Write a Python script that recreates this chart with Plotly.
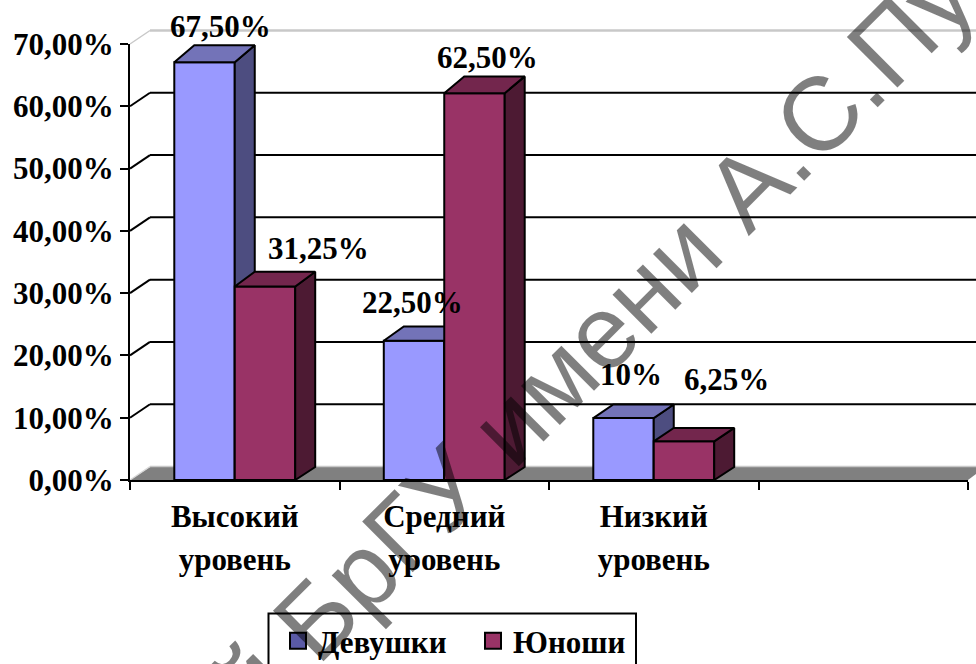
import plotly.graph_objects as go

# ---- data ----
categories = ["Высокий уровень", "Средний уровень", "Низкий уровень"]
girls = [67.5, 22.5, 10.0]
boys = [31.25, 62.5, 6.25]
girls_labels = ["67,50%", "22,50%", "10%"]
boys_labels = ["31,25%", "62,50%", "6,25%"]
series_names = ["Девушки", "Юноши"]
y_ticks = [0, 10, 20, 30, 40, 50, 60, 70]
y_tick_labels = ["0,00%", "10,00%", "20,00%", "30,00%", "40,00%", "50,00%", "60,00%", "70,00%"]
watermark = "Репозиторий БрГУ имени А.С.Пушкина"

# ---- label offsets in pixels (right, up) from the bar's front-top centre ----
girls_offsets = [(16, 36), (-2, 38), (7, 44)]
boys_offsets = [(54, 38), (13, 36), (43, 62)]

# ---- geometry ----
W, H = 976, 664
LEFT, FLOOR_Y, TOP_Y, RIGHT = 130, 480, 44, 968
PX_PER_CAT = (RIGHT - LEFT) / 4
BAR_W = 0.2886
DX = 20 / PX_PER_CAT
PX_PER_UNIT = (FLOOR_Y - TOP_Y) / 70
BAR_RANGE = 70.44
BAR_UNIT = (FLOOR_Y - TOP_Y) / BAR_RANGE
FONT = "Liberation Serif"
BLACK = "#000000"


def back(v):
    return v * 1.0097 + 13 / BAR_UNIT


def px(x):
    return (x - LEFT) / (W - LEFT)


def py(y):
    return (FLOOR_Y - y) / FLOOR_Y


fig = go.Figure()

# ---- legend entries (base subplot) ----
for name, col in zip(series_names, ["#5a5aa6", "#993366"]):
    fig.add_trace(go.Scatter(x=[None], y=[None], mode="markers", name=name,
                             marker=dict(symbol="square", size=16, color=col,
                                         line=dict(color=BLACK, width=2))))


def add_series(values, name, xaxis, yaxis, offset, front, top, side):
    xs = list(range(len(values)))
    fig.add_trace(go.Bar(x=xs, y=values, width=BAR_W, offset=offset, name=name, showlegend=False,
                         marker=dict(color=front, line=dict(color=BLACK, width=2)),
                         xaxis=xaxis, yaxis=yaxis))
    for i, v in zip(xs, values):
        a, b = i + offset, i + offset + BAR_W
        b0 = back(0)
        bv = back(v)
        fig.add_trace(go.Scatter(
            x=[b, b + DX, b + DX, b, b], y=[v, bv, b0, 0, v], mode="lines", fill="toself",
            fillcolor=side, line=dict(color=BLACK, width=2), showlegend=False,
            xaxis=xaxis, yaxis=yaxis, cliponaxis=False, hoverinfo="skip"))
        fig.add_trace(go.Scatter(
            x=[a, b, b + DX, a + DX, a], y=[v, v, bv, bv, v], mode="lines", fill="toself",
            fillcolor=top, line=dict(color=BLACK, width=2), showlegend=False,
            xaxis=xaxis, yaxis=yaxis, cliponaxis=False, hoverinfo="skip"))


add_series(girls, series_names[0], "x2", "y2", -BAR_W, "#9999FF", "#7373B8", "#4D4D80")
add_series(boys, series_names[1], "x3", "y3", 0, "#993366", "#73264D", "#4D1A33")

shapes = []
# floor
shapes.append(dict(type="path", xref="paper", yref="paper", layer="below",
                   path=f"M{px(LEFT)},{py(FLOOR_Y)} L{px(LEFT + 20)},{py(FLOOR_Y - 13)} L1,{py(FLOOR_Y - 13)} "
                        f"L1,{py(FLOOR_Y - 6)} L{px(RIGHT)},{py(FLOOR_Y)} Z",
                   fillcolor="#808080", line=dict(width=0)))
shapes.append(dict(type="line", xref="paper", yref="paper", layer="below",
                   x0=px(LEFT + 20), x1=1, y0=py(FLOOR_Y - 13.5), y1=py(FLOOR_Y - 13.5),
                   line=dict(color="#c8c8c8", width=1.5)))
shapes.append(dict(type="line", xref="paper", yref="paper", layer="below",
                   x0=px(LEFT), x1=px(LEFT + 20), y0=py(FLOOR_Y), y1=py(FLOOR_Y - 13.5),
                   line=dict(color="#d8d8d8", width=1.5)))
# back wall gridlines and side-wall diagonals
for t in y_ticks[1:]:
    col = "#c8c8c8" if t == 70 else BLACK
    wid = 2.5 if t == 70 else 2
    y_front = py(FLOOR_Y - t * PX_PER_UNIT)
    y_back = py(FLOOR_Y - t * PX_PER_UNIT - 13.5)
    shapes.append(dict(type="line", xref="paper", yref="paper", layer="below",
                       x0=px(LEFT + 20), x1=1, y0=y_back, y1=y_back, line=dict(color=col, width=wid)))
    shapes.append(dict(type="line", xref="paper", yref="paper", layer="below",
                       x0=px(LEFT), x1=px(LEFT + 20), y0=y_front, y1=y_back,
                       line=dict(color=col, width=1.5 if t == 70 else 2)))
# legend box
shapes.append(dict(type="rect", xref="paper", yref="paper", layer="below",
                   x0=px(268.5), x1=px(636), y0=py(613.5), y1=py(680),
                   fillcolor="white", line=dict(color=BLACK, width=2)))

annotations = []
label_font = dict(family=FONT, size=31, color=BLACK, weight=700)
for vals, labs, offs, off, xa, ya in [(girls, girls_labels, girls_offsets, -BAR_W / 2, "x2", "y2"),
                                      (boys, boys_labels, boys_offsets, BAR_W / 2, "x3", "y3")]:
    for i, (v, lab, (dx, dy)) in enumerate(zip(vals, labs, offs)):
        annotations.append(dict(x=i + off, y=v, xref=xa, yref=ya, text=lab, showarrow=False,
                                xanchor="center", yanchor="middle", xshift=dx, yshift=dy,
                                font=label_font))
annotations.append(dict(x=px(501), y=py(433), xref="paper", yref="paper", text=watermark,
                        showarrow=False, textangle=-45, xanchor="center", yanchor="middle",
                        font=dict(family="Liberation Sans", size=104, color="rgba(0,0,0,0.5)")))

cat_first = [c.split()[0] for c in categories]
cat_second = [c.split()[1] for c in categories]
tick_font = dict(family=FONT, size=31, color=BLACK, weight=700)
x_dom = [0, px(RIGHT)]
y_dom = [0, py(TOP_Y)]
x_rng = [-0.5, 3.5]
hidden_y = dict(domain=y_dom, range=[0, BAR_RANGE], visible=False, fixedrange=True, overlaying="y")

fig.update_layout(
    width=W, height=H, template="none", autosize=False, showlegend=True,
    paper_bgcolor="white", plot_bgcolor="rgba(0,0,0,0)",
    margin=dict(l=LEFT, r=0, t=0, b=H - FLOOR_Y, pad=0, autoexpand=False),
    barmode="overlay",
    xaxis=dict(domain=x_dom, range=x_rng, tickmode="array", tickvals=[-0.5, 0.5, 1.5, 2.5, 3.5],
               ticktext=[""] * 5, ticks="outside", ticklen=8, tickwidth=2, tickcolor=BLACK,
               showline=True, linecolor=BLACK, linewidth=2, showgrid=False, zeroline=False, anchor="y"),
    yaxis=dict(domain=y_dom, range=[0, 70], tickmode="array", tickvals=y_ticks, ticktext=y_tick_labels,
               ticks="outside", ticklen=8, tickwidth=2, tickcolor=BLACK, tickfont=tick_font,
               showline=True, linecolor=BLACK, linewidth=2, showgrid=False, zeroline=False, anchor="x",
               ticklabelstandoff=0),
    xaxis2=dict(domain=x_dom, range=x_rng, overlaying="x", anchor="y2", tickmode="array",
                tickvals=list(range(len(categories))), ticktext=cat_first, tickfont=tick_font,
                ticks="", showline=False, showgrid=False, zeroline=False, ticklabelstandoff=15),
    xaxis3=dict(domain=x_dom, range=x_rng, overlaying="x", anchor="y3", tickmode="array",
                tickvals=list(range(len(categories))), ticktext=cat_second, tickfont=tick_font,
                ticks="", showline=False, showgrid=False, zeroline=False, ticklabelstandoff=58),
    yaxis2=hidden_y | dict(anchor="x2"),
    yaxis3=hidden_y | dict(anchor="x3"),
    shapes=shapes,
    annotations=annotations,
    legend=dict(orientation="h", x=px(278), y=py(614), xanchor="left", yanchor="top",
                bgcolor="rgba(0,0,0,0)", borderwidth=0,
                font=dict(family=FONT, size=31, color=BLACK, weight=700),
                itemsizing="trace", itemwidth=30, entrywidth=150, entrywidthmode="pixels"),
)

fig.write_html("out.html", config={"displayModeBar": False},
               post_script="document.body.style.margin='0';")
